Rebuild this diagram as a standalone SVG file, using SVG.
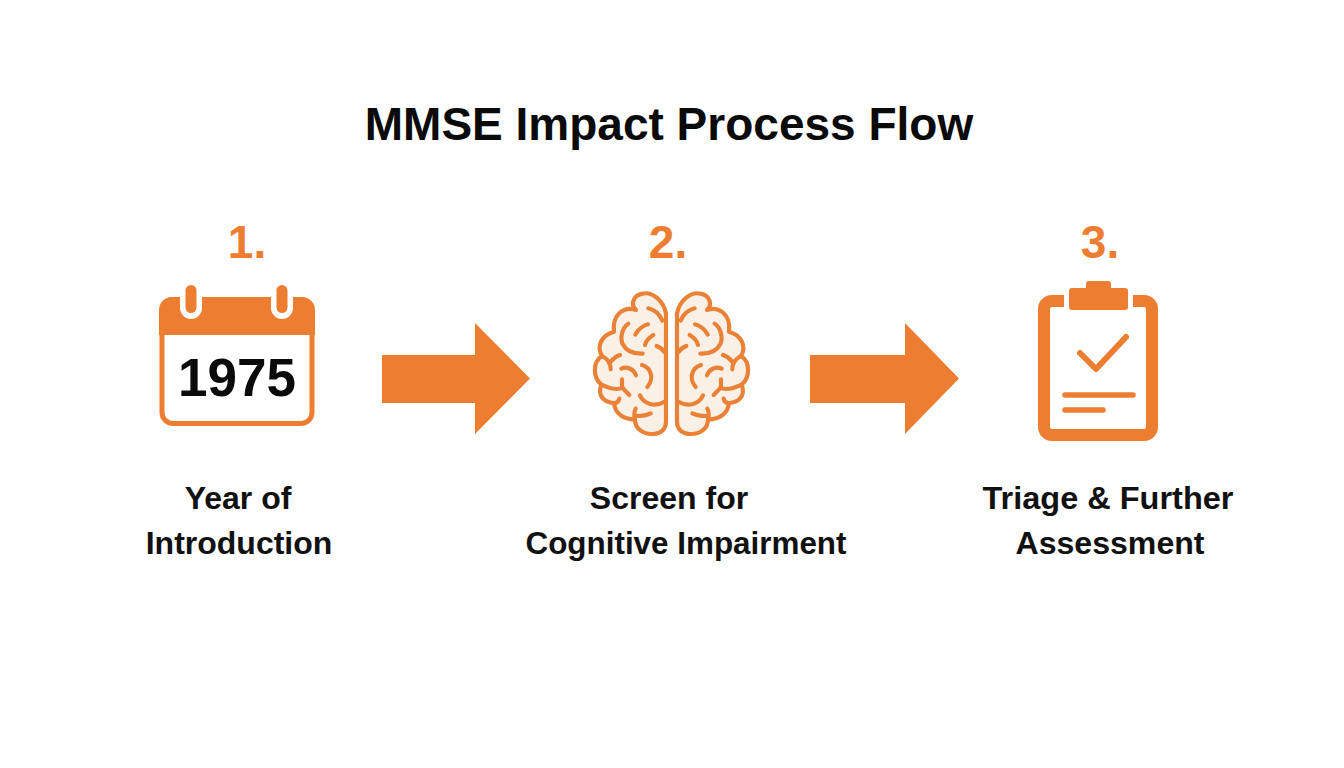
<svg xmlns="http://www.w3.org/2000/svg" xmlns:xlink="http://www.w3.org/1999/xlink" width="1344" height="768" viewBox="0 0 1344 768">
<style>
text{font-family:"Liberation Sans",Arial,sans-serif;font-weight:700;text-anchor:middle}
.t{font-size:46px;fill:#0a0a0a}
.n{font-size:46px;fill:#ed7d31}
.l{font-size:32px;fill:#111}
.o{fill:#ed7d31}
.s{fill:none;stroke:#ed7d31;stroke-linecap:round;stroke-linejoin:round}
.b{fill:none;stroke:#e98237;stroke-width:12.500;stroke-linecap:round;stroke-linejoin:round}
</style>
<defs>
<g id="hemi">
<path d="M258 100C250 60 215 34 188 41C160 46 150 72 168 90C130 78 96 105 102 155C66 165 48 197 66 228C38 245 38 292 64 314C52 345 70 368 102 369C105 402 132 417 165 419C165 446 190 464 220 462C245 460 258 446 258 425Z" fill="#fbf0e6" stroke="#e98237" stroke-width="12.500" stroke-linejoin="round"/>
<path class="b" d="M205 85C225 90 240 105 247 122M145 131C125 145 120 175 128 192C138 212 160 222 188 221M166 164C172 150 188 137 204 133M195 195C198 182 208 172 220 165M230 198C240 202 248 208 252 215M66 228C80 235 92 248 92 268M92 245C100 235 110 228 120 225M124 266C140 258 160 266 168 286M186 255C210 262 226 292 202 321M64 314C90 326 115 332 128 322M126 298V322L148 345M180 346C190 372 225 382 252 366M102 369C110 370 116 365 118 356M165 419C162 408 162 395 167 386M168 408C185 408 200 406 212 400"/>
</g>
</defs>
<rect width="1344" height="768" fill="#fefefe"/>
<g id="title"><text class="t" x="669" y="140">MMSE Impact Process Flow</text></g>
<g id="connectors">
<path class="o" d="M382 355H475V323L530 378.500L475 434V403H382Z"/>
<path class="o" d="M810 355H905V323L959 378.500L905 434V403H810Z"/>
</g>
<g id="node1">
<text class="n" x="247" y="258">1.</text>
<rect x="162" y="299.500" width="150" height="124" rx="11" fill="#fff" stroke="#ed7d31" stroke-width="5"/>
<path class="o" d="M159 335V310a13 13 0 0 1 13-13H302a13 13 0 0 1 13 13V335Z"/>
<rect x="180" y="280" width="22" height="39" rx="11" fill="#fff"/>
<rect x="271" y="280" width="22" height="39" rx="11" fill="#fff"/>
<rect x="185.500" y="285" width="11" height="28" rx="5.500" class="o"/>
<rect x="276.500" y="285" width="11" height="28" rx="5.500" class="o"/>
<text x="237" y="396" style="font-size:53px;fill:#0a0a0a">1975</text>
<text class="l" x="238" y="509">Year of</text>
<text class="l" x="239" y="554">Introduction</text>
</g>
<g id="node2">
<text class="n" x="668" y="258">2.</text>
<g transform="translate(580 280) scale(.3333)"><use xlink:href="#hemi" href="#hemi"/><use xlink:href="#hemi" href="#hemi" transform="translate(549 0) scale(-1 1)"/></g>
<text class="l" x="669" y="509">Screen for</text>
<text class="l" x="686" y="554" textLength="321" lengthAdjust="spacingAndGlyphs">Cognitive Impairment</text>
</g>
<g id="node3">
<text class="n" x="1100" y="258">3.</text>
<path class="s" style="stroke-linecap:butt;stroke-width:12" d="M1064 301H1052a8 8 0 0 0-8 8V427a8 8 0 0 0 8 8H1144a8 8 0 0 0 8-8V309a8 8 0 0 0-8-8H1133"/>
<path class="o" d="M1069 291a3 3 0 0 1 3-3H1086V284a3 3 0 0 1 3-3H1108a3 3 0 0 1 3 3V288H1125a3 3 0 0 1 3 3V307a3 3 0 0 1-3 3H1072a3 3 0 0 1-3-3Z"/>
<path class="s" d="M1080 353L1096 369L1126 337" style="stroke-width:6"/>
<path class="s" style="stroke-width:5.500" d="M1065 395H1133M1065 410H1103"/>
<text class="l" x="1108" y="509" textLength="251" lengthAdjust="spacingAndGlyphs">Triage &amp; Further</text>
<text class="l" x="1110" y="554" textLength="189" lengthAdjust="spacingAndGlyphs">Assessment</text>
</g>
</svg>
